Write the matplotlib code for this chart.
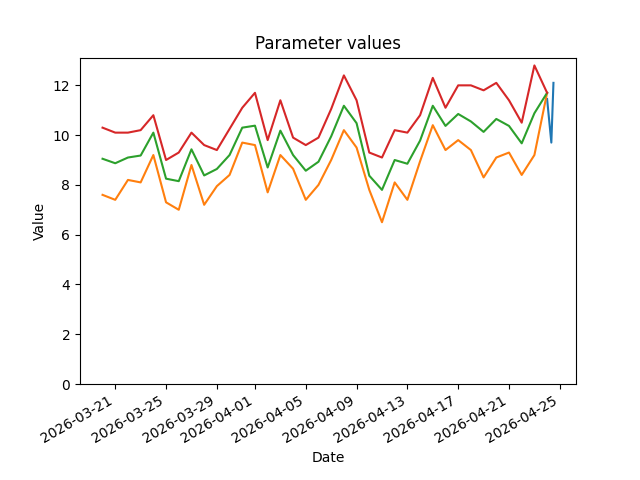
import numpy as np
import pandas as pd
import matplotlib
matplotlib.use("Agg")
import matplotlib.pyplot as plt

# daily values, 2026-03-20 .. 2026-04-24
dates = pd.date_range("2026-03-20", "2026-04-24", freq="D")

low = [7.6, 7.4, 8.2, 8.1, 9.2, 7.3, 7.0, 8.8, 7.2, 7.95,
       8.4, 9.7, 9.6, 7.7, 9.2, 8.65, 7.4, 8.0, 9.0, 10.2,
       9.5, 7.8, 6.5, 8.1, 7.4, 8.95, 10.4, 9.4, 9.8, 9.4,
       8.3, 9.1, 9.3, 8.4, 9.2, 11.7]
mid = [9.05, 8.87, 9.1, 9.18, 10.1, 8.25, 8.15, 9.43, 8.38, 8.64,
       9.2, 10.3, 10.38, 8.7, 10.18, 9.2, 8.57, 8.93, 9.95, 11.18,
       10.48, 8.37, 7.8, 9.0, 8.85, 9.78, 11.18, 10.37, 10.85, 10.55,
       10.13, 10.65, 10.37, 9.67, 10.88, 11.7]
high = [10.3, 10.1, 10.1, 10.2, 10.8, 9.0, 9.3, 10.1, 9.6, 9.4,
        10.25, 11.1, 11.7, 9.8, 11.4, 9.9, 9.6, 9.9, 11.05, 12.4,
        11.4, 9.3, 9.1, 10.2, 10.1, 10.8, 12.3, 11.1, 12.0, 12.0,
        11.8, 12.1, 11.4, 10.5, 12.8, 11.7]

# short series on the last day
last_times = pd.to_datetime(["2026-04-24 00:00", "2026-04-24 08:00", "2026-04-24 12:00"])
last_vals = [11.45, 9.7, 12.1]

fig, ax = plt.subplots(figsize=(6.4, 4.8), dpi=100)
ax.plot(last_times, last_vals)
ax.plot(dates, low)
ax.plot(dates, mid)
ax.plot(dates, high)
ax.set_ylim(bottom=0)
ax.set(title="Parameter values", xlabel="Date", ylabel="Value")
fig.autofmt_xdate()

fig.savefig("out.png")
